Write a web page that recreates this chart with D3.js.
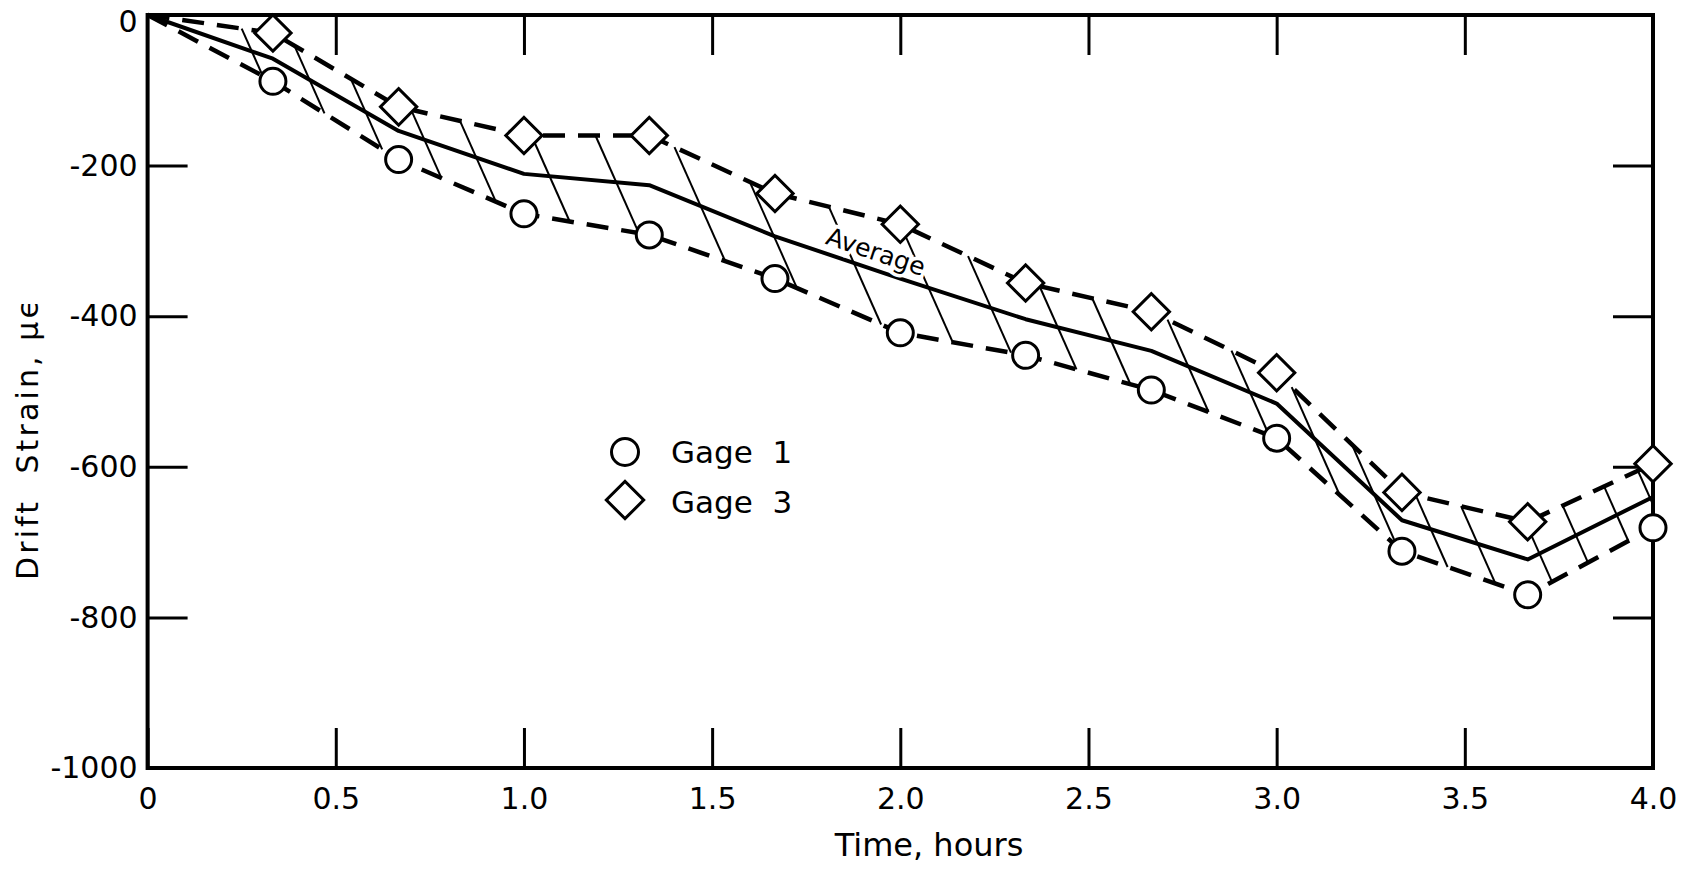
<!DOCTYPE html>
<html>
<head>
<meta charset="utf-8">
<script src="https://cdn.jsdelivr.net/npm/d3@7"></script>
<style>
  body { margin: 0; background: #fff; }
  text { font-family: "DejaVu Sans", sans-serif; fill: #000; }
</style>
</head>
<body>
<div id="grafica"></div>
<script>
// tiempos de lectura (horas) y deformaciones (micro-strain)
const tiempos = [0, 0.333, 0.667, 1.0, 1.333, 1.667, 2.0, 2.333, 2.667, 3.0, 3.333, 3.667, 4.0];
const gage1 = [0, -88, -192, -264, -292, -350, -422, -452, -498, -562, -712, -770, -681];
const gage3 = [0, -24, -122, -160, -160, -237, -278, -356, -394, -475, -634, -673, -596];
const promedio = [0, -58, -154, -211, -226, -294, -350, -404, -446, -516, -671, -723, -640];

// inicio (borde superior) de cada linea del rayado
const rayado = [0.25, 0.39, 0.54, 0.70, 0.83, 1.02, 1.19, 1.40, 1.60, 1.81, 2.00, 2.18,
                2.37, 2.51, 2.71, 2.88, 3.04, 3.20, 3.37, 3.49, 3.66, 3.76, 3.87, 3.96];

const xTicks = [0, 0.5, 1.0, 1.5, 2.0, 2.5, 3.0, 3.5, 4.0];
const xTickLabels = ["0", "0.5", "1.0", "1.5", "2.0", "2.5", "3.0", "3.5", "4.0"];
const yTicks = [0, -200, -400, -600, -800, -1000];
const yTickLabels = ["0", "-200", "-400", "-600", "-800", "-1000"];
const series = ["Gage  1", "Gage  3"];

const W = 1689, H = 869;
const margin = {left: 147.6, right: 36, top: 15, bottom: 101};

const svg = d3.select("#grafica").append("svg")
    .attr("width", W)
    .attr("height", H)
    .style("display", "block");

svg.append("rect").attr("width", W).attr("height", H).attr("fill", "white");

const x = d3.scaleLinear([0, 4], [margin.left, W - margin.right]);
const y = d3.scaleLinear([0, -1000], [margin.top, H - margin.bottom]);

const tick = 40;

// ejes
const gx = svg.append("g")
    .attr("transform", `translate(0,${y(-1000)})`)
    .call(d3.axisBottom(x).tickValues(xTicks).tickSizeInner(-tick).tickSizeOuter(0)
        .tickPadding(20).tickFormat((d, i) => xTickLabels[i]));

const gy = svg.append("g")
    .attr("transform", `translate(${x(0)},0)`)
    .call(d3.axisLeft(y).tickValues(yTicks).tickSizeInner(-tick).tickSizeOuter(0)
        .tickPadding(10).tickFormat((d, i) => yTickLabels[i]));

const gtop = svg.append("g")
    .attr("transform", `translate(0,${y(0)})`)
    .call(d3.axisTop(x).tickValues(xTicks.slice(1, -1)).tickSizeInner(-tick).tickSizeOuter(0).tickFormat(""));

const gright = svg.append("g")
    .attr("transform", `translate(${x(4)},0)`)
    .call(d3.axisRight(y).tickValues(yTicks.slice(1, -1)).tickSizeInner(-tick).tickSizeOuter(0).tickFormat(""));

[gx, gy, gtop, gright].forEach(g => {
    g.select(".domain").remove();
    g.selectAll(".tick line").attr("stroke", "black").attr("stroke-width", 3);
    g.selectAll(".tick text").style("font-size", "30px").attr("fill", "black");
});

// el "0" de arriba baja un poco para no salirse del borde
gy.selectAll(".tick text").filter(d => d === 0).attr("dy", "0.55em");

svg.append("rect")
    .attr("x", x(0))
    .attr("y", y(0))
    .attr("width", x(4) - x(0))
    .attr("height", y(-1000) - y(0))
    .attr("fill", "none")
    .attr("stroke", "black")
    .attr("stroke-width", 4);

// rayado entre las dos curvas
const sup = d3.scaleLinear(tiempos, gage3);
const inf = d3.scaleLinear(tiempos, gage1);
const pend = 2.25;

const lineasRayado = rayado.map(t0 => {
    const x0 = x(t0), y0 = y(sup(t0));
    const f = t => y(inf(t)) - y0 - pend * (x(t) - x0);
    let a = t0, b = t0 + 0.4;
    for (let k = 0; k < 40; k++) {
        const m = (a + b) / 2;
        if (f(m) > 0) a = m; else b = m;
    }
    let t1 = (a + b) / 2;
    let x1 = x(t1), y1 = y(inf(t1));
    if (t1 > 4) {
        x1 = x(4);
        y1 = y0 + pend * (x1 - x0);
    }
    return {x0, y0, x1, y1};
});

svg.append("g").selectAll("line")
    .data(lineasRayado)
    .join("line")
    .attr("x1", d => d.x0)
    .attr("y1", d => d.y0)
    .attr("x2", d => d.x1)
    .attr("y2", d => d.y1)
    .attr("stroke", "black")
    .attr("stroke-width", 2);

const linea = d3.line().x(d => x(d[0])).y(d => y(d[1]));

[gage1, gage3].forEach(serie => {
    svg.append("path")
        .datum(d3.zip(tiempos, serie))
        .attr("d", linea)
        .attr("fill", "none")
        .attr("stroke", "black")
        .attr("stroke-width", 4.5)
        .attr("stroke-dasharray", "22,13");
});

svg.append("path")
    .datum(d3.zip(tiempos, promedio))
    .attr("d", linea)
    .attr("fill", "none")
    .attr("stroke", "black")
    .attr("stroke-width", 4)
    .attr("stroke-linejoin", "round");

// marcadores
svg.append("g").selectAll("circle")
    .data(d3.zip(tiempos, gage1).slice(1))
    .join("circle")
    .attr("cx", d => x(d[0]))
    .attr("cy", d => y(d[1]))
    .attr("r", 13)
    .attr("fill", "white")
    .attr("stroke", "black")
    .attr("stroke-width", 3);

const rombo = d3.symbol(d3.symbolSquare, 660);

svg.append("g").selectAll("path")
    .data(d3.zip(tiempos, gage3).slice(1))
    .join("path")
    .attr("d", rombo)
    .attr("transform", d => `translate(${x(d[0])},${y(d[1])}) rotate(45)`)
    .attr("fill", "white")
    .attr("stroke", "black")
    .attr("stroke-width", 3);

// etiqueta "Average" sobre la linea promedio
const prom = d3.scaleLinear(tiempos, promedio);
const tA = 1.667, tB = 2.0, tL = 1.92;
const ang = Math.atan2(y(prom(tB)) - y(prom(tA)), x(tB) - x(tA)) * 180 / Math.PI;
svg.append("text")
    .attr("transform", `translate(${x(tL)},${y(prom(tL))}) rotate(${ang}) translate(0,-9)`)
    .attr("text-anchor", "middle")
    .style("font-size", "25px")
    .attr("stroke", "white")
    .attr("stroke-width", 7)
    .attr("paint-order", "stroke")
    .text("Average");

// leyenda
const ley = svg.append("g");
ley.append("circle")
    .attr("cx", 625).attr("cy", 452).attr("r", 13.5)
    .attr("fill", "white").attr("stroke", "black").attr("stroke-width", 3);
ley.append("path")
    .attr("d", d3.symbol(d3.symbolSquare, 700))
    .attr("transform", "translate(625,500) rotate(45)")
    .attr("fill", "white").attr("stroke", "black").attr("stroke-width", 3);
ley.selectAll("text")
    .data(series)
    .join("text")
    .attr("x", 671)
    .attr("y", (d, i) => 463 + i * 50)
    .style("font-size", "31px")
    .style("white-space", "pre")
    .text(d => d);

// titulos de ejes
svg.append("text")
    .attr("x", 929)
    .attr("y", 856)
    .attr("text-anchor", "middle")
    .style("font-size", "32px")
    .text("Time, hours");

svg.append("text")
    .attr("transform", `translate(38,440) rotate(-90)`)
    .attr("text-anchor", "middle")
    .attr("textLength", 280)
    .attr("lengthAdjust", "spacing")
    .style("font-size", "30px")
    .style("white-space", "pre")
    .text("Drift  Strain, μϵ");
</script>
</body>
</html>
